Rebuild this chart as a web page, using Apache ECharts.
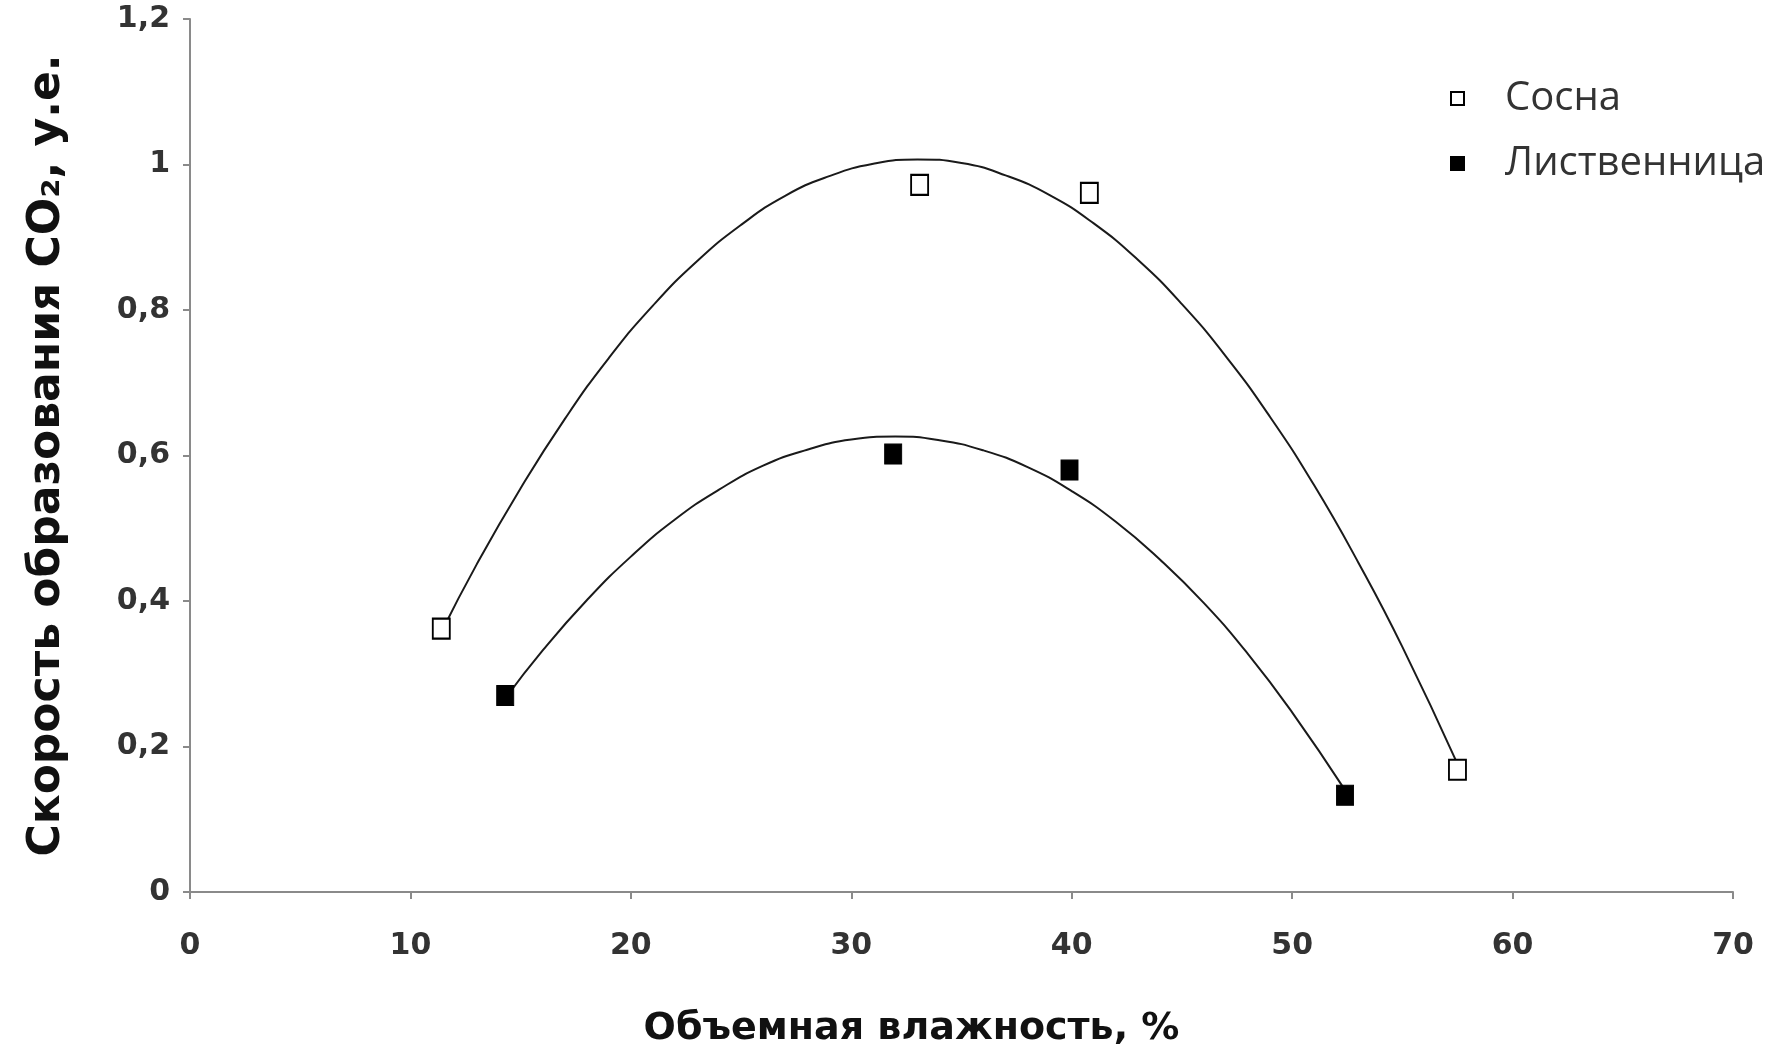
<!DOCTYPE html>
<html>
<head>
<meta charset="utf-8">
<script src="https://cdn.jsdelivr.net/npm/echarts@6/dist/echarts.min.js"></script>
<style>html,body{margin:0;padding:0;background:#fff;}#c{width:1780px;height:1058px;}</style>
</head>
<body>
<div id="c"></div>
<script>
// Measured points
const sosnaX = [11.4, 33.1, 40.8, 57.5];
const sosnaY = [0.362, 0.972, 0.961, 0.168];
const listX = [14.3, 31.9, 39.9, 52.4];
const listY = [0.27, 0.602, 0.58, 0.133];
// Trend curves
const sosnaTrendX = [11.4, 13, 15, 17, 19, 21, 23, 25, 27, 29, 31, 33, 35, 37, 39, 41, 43, 45, 47, 49, 51, 53, 55, 57.5];
const sosnaTrendY = [0.357, 0.450, 0.555, 0.650, 0.734, 0.806, 0.867, 0.917, 0.957, 0.984, 1.001, 1.007, 1.002, 0.985, 0.958, 0.919, 0.869, 0.808, 0.736, 0.653, 0.559, 0.453, 0.337, 0.176];
const listTrendX = [14.3, 16, 18, 20, 22, 24, 26, 28, 30, 32, 34, 36, 38, 40, 42, 44, 46, 48, 50, 52.4];
const listTrendY = [0.266, 0.332, 0.401, 0.461, 0.512, 0.553, 0.586, 0.608, 0.622, 0.626, 0.621, 0.607, 0.584, 0.551, 0.509, 0.457, 0.397, 0.327, 0.247, 0.140];
const seriesNames = ['Сосна', 'Лиственница'];
const xTitle = 'Объемная влажность, %';
const yTitle = 'Скорость образования CO₂, у.е.';

const zip = (xs, ys) => xs.map((x, i) => [x, ys[i]]);
const axisColor = '#8a8a8a';
const labelStyle = {color: '#333', fontSize: 30, fontWeight: 'bold', fontFamily: 'DejaVu Sans'};

const chart = echarts.init(document.getElementById('c'), null, {renderer: 'canvas'});
chart.setOption({
  animation: false,
  backgroundColor: '#fff',
  grid: {left: 190, right: 47, top: 19, bottom: 166},
  xAxis: {
    type: 'value', min: 0, max: 70, interval: 10,
    axisLine: {lineStyle: {color: axisColor, width: 2}},
    axisTick: {show: true, length: 7, lineStyle: {color: axisColor, width: 2}},
    splitLine: {show: false},
    axisLabel: Object.assign({margin: 39}, labelStyle),
    name: xTitle, nameLocation: 'middle', nameGap: 118,
    nameTextStyle: {color: '#111', fontSize: 38, fontWeight: 'bold', fontFamily: 'DejaVu Sans', padding: [0, 100, 0, 0]}
  },
  yAxis: {
    type: 'value', min: 0, max: 1.2, interval: 0.2,
    axisLine: {show: true, lineStyle: {color: axisColor, width: 2}},
    axisTick: {show: true, length: 7, lineStyle: {color: axisColor, width: 2}},
    splitLine: {show: false},
    axisLabel: Object.assign({margin: 20, formatter: v => String(+v.toFixed(1)).replace('.', ',')}, labelStyle),
    name: yTitle, nameLocation: 'middle', nameGap: 120,
    nameTextStyle: {color: '#111', fontSize: 44, fontWeight: 'bold', fontFamily: 'DejaVu Sans'}
  },
  legend: {
    orient: 'vertical', left: 1445, top: 72,
    itemWidth: 13, itemHeight: 13, itemGap: 22,
    data: seriesNames,
    textStyle: {fontFamily: 'Open Sans', fontSize: 40, lineHeight: 43, color: '#333', padding: [0, 0, 0, 36]}
  },
  series: [
    {type: 'line', data: zip(sosnaTrendX, sosnaTrendY), smooth: true, symbol: 'none', silent: true,
     lineStyle: {color: '#1a1a1a', width: 2}, z: 1},
    {type: 'line', data: zip(listTrendX, listTrendY), smooth: true, symbol: 'none', silent: true,
     lineStyle: {color: '#1a1a1a', width: 2}, z: 1},
    {name: seriesNames[0], type: 'scatter', data: zip(sosnaX, sosnaY), symbol: 'rect', symbolSize: [17, 20],
     itemStyle: {color: '#fff', borderColor: '#000', borderWidth: 2, opacity: 1}, z: 3},
    {name: seriesNames[1], type: 'scatter', data: zip(listX, listY), symbol: 'rect', symbolSize: [17, 20],
     itemStyle: {color: '#000', borderColor: '#000', borderWidth: 1, opacity: 1}, z: 3}
  ]
});
</script>
</body>
</html>
